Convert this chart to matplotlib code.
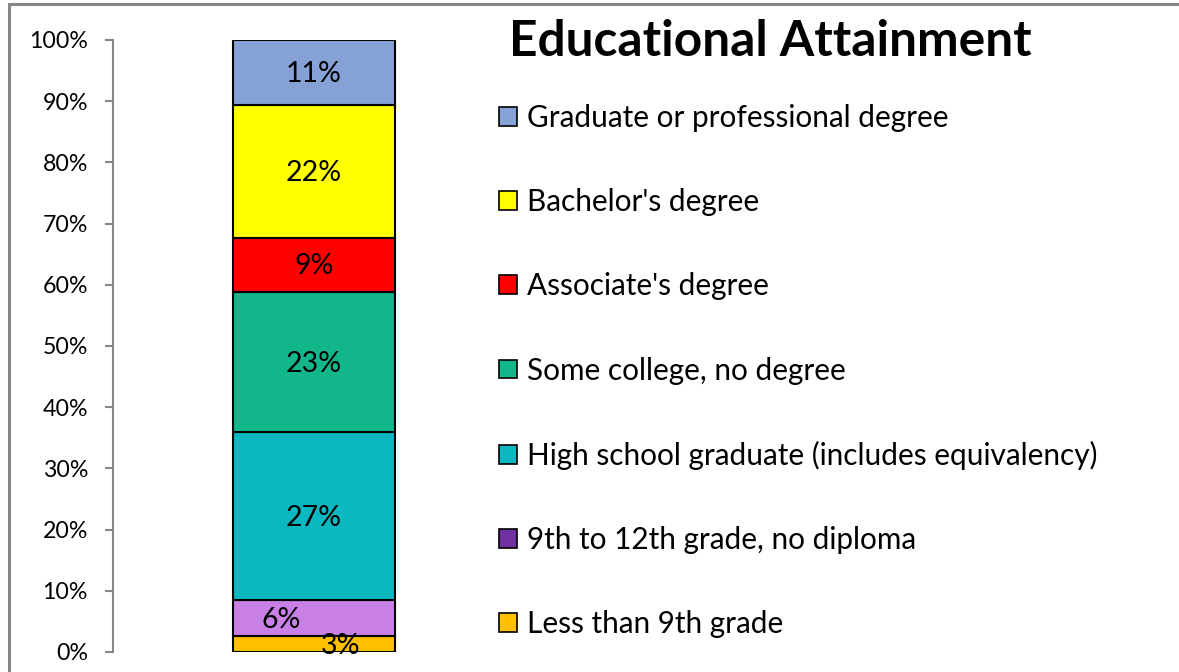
import matplotlib
matplotlib.use('Agg')
import matplotlib.pyplot as plt
from matplotlib.patches import Patch, Rectangle
from matplotlib.ticker import FuncFormatter, MultipleLocator

# ---- data (bottom to top) ----
categories = ["Less than 9th grade",
              "9th to 12th grade, no diploma",
              "High school graduate (includes equivalency)",
              "Some college, no degree",
              "Associate's degree",
              "Bachelor's degree",
              "Graduate or professional degree"]
values = [2.6, 5.9, 27.4, 23.0, 8.8, 21.7, 10.6]
bar_colors = ["#FFC000", "#C880E6", "#0BB7C0", "#11B68A", "#FF0000", "#FFFF00", "#85A1D6"]
legend_colors = ["#FFC000", "#7030A0", "#0BB7C0", "#11B68A", "#FF0000", "#FFFF00", "#85A1D6"]
label_dx = [0.067, -0.082, 0, 0, 0, 0, 0]
title = "Educational Attainment"

plt.rcParams['font.family'] = ['Lato', 'DejaVu Sans']

W, H = 1179, 672
fig = plt.figure(figsize=(W / 100, H / 100), dpi=100)

# outer border (only left/top visible in reference)
fig.patches.append(Rectangle((9 / W, -0.1), 1.2, (H - 4) / H + 0.1, transform=fig.transFigure,
                             fill=False, edgecolor="#878787", linewidth=2.2))

ax = fig.add_axes([113 / W, 20 / H, 402 / W, 612 / H])
ax.set_xlim(0, 1)
ax.set_ylim(0, 100)

bottom = 0
for v, c, dx in zip(values, bar_colors, label_dx):
    ax.bar(0.5, v, width=0.403, bottom=bottom, color=c, edgecolor="black", linewidth=1.5)
    ax.text(0.5 + dx, bottom + v / 2 - 0.3, f"{round(v):d}%", ha="center", va="center",
            fontsize=20.5, color="black")
    bottom += v

for s in ["top", "right", "bottom"]:
    ax.spines[s].set_visible(False)
ax.spines["left"].set_color("#878787")
ax.spines["left"].set_linewidth(1.5)
ax.set_xticks([])
ax.yaxis.set_major_locator(MultipleLocator(10))
ax.yaxis.set_major_formatter(FuncFormatter(lambda y, p: f"{int(round(y))}%"))
ax.tick_params(axis="y", length=6, width=1.5, color="#878787", pad=12, labelsize=16.7)

fig.text(770 / W, 1 - 42 / H, title, ha="center", va="center", fontsize=35.7, fontweight="bold")

handles = [Patch(facecolor=c, edgecolor="black", linewidth=1.2) for c in legend_colors[::-1]]
fig.legend(handles, categories[::-1], loc="upper left", bbox_to_anchor=(499 / W, 1 - 104 / H),
           frameon=False, fontsize=21.4, handlelength=0.6, handleheight=0.6, handletextpad=0.34,
           labelspacing=1.89, borderaxespad=0, borderpad=0)

fig.savefig("out.png", dpi=100)
